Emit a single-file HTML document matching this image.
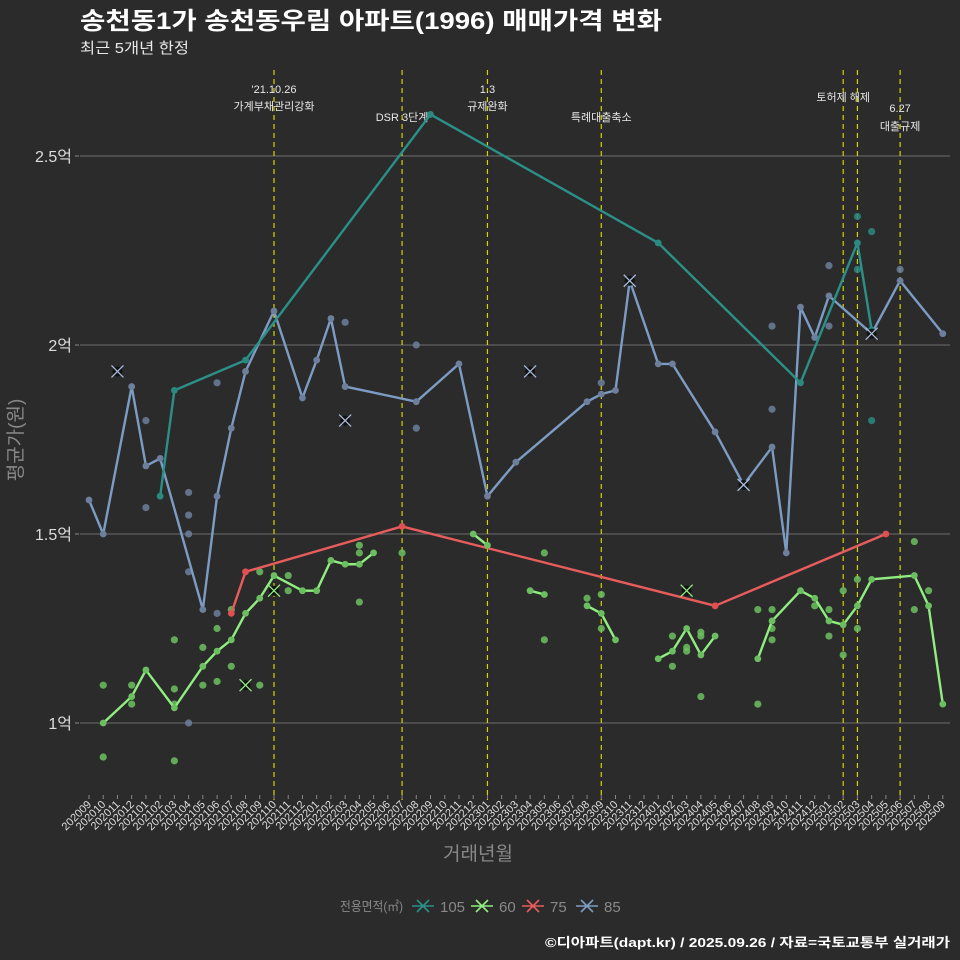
<!DOCTYPE html>
<html><head><meta charset="utf-8">
<style>
html,body{margin:0;padding:0;background:#2b2b2b;}
svg{display:block;font-family:"Liberation Sans","Noto Sans CJK KR",sans-serif;}
</style></head>
<body>
<svg id="chart" width="960" height="960" viewBox="0 0 960 960">
<rect x="0" y="0" width="960" height="960" fill="#2b2b2b"/>
<text x="80" y="29" fill="#ffffff" font-size="24" font-weight="bold" textLength="582" lengthAdjust="spacingAndGlyphs">송천동1가 송천동우림 아파트(1996) 매매가격 변화</text>
<text x="80" y="53" fill="#e8e8e8" font-size="15" textLength="109" lengthAdjust="spacingAndGlyphs">최근 5개년 한정</text>
<g id="grid"></g><g id="events"></g><g id="marks"></g><g id="axes"></g>
<text x="478" y="860" fill="#888" font-size="19" text-anchor="middle">거래년월</text>
<text transform="translate(22,440) rotate(-90)" fill="#888" font-size="19" text-anchor="middle">평균가(원)</text>
<g id="legend"></g>
<text x="545" y="947" fill="#ffffff" font-size="13" font-weight="bold" textLength="405" lengthAdjust="spacingAndGlyphs">©디아파트(dapt.kr) / 2025.09.26 / 자료=국토교통부 실거래가</text>
</svg>
<script>
const months = [];
for (let y = 2020, m = 9; months.length < 61; ) { months.push(String(y) + String(m).padStart(2,'0')); m++; if (m > 12) { m = 1; y++; } }
const yTicks = [1, 1.5, 2, 2.5];
const yTickLabels = ['1억', '1.5억', '2억', '2.5억'];
const eventMonths = [13, 22, 28, 36, 53, 54, 57];
const eventLabels = [["'21.10.26","가계부채관리강화"],["DSR 3단계"],["1.3","규제완화"],["특례대출축소"],["토허제 해제"],[],["6.27","대출규제"]];
const eventLabelY = [[93,110],[121],[93,110],[121],[101],[],[112,130]];
const areaNames = ['105','60','75','85'];
const areaColors = ['#2a9088','#90ee80','#e85c5c','#7d9cc4'];
const dotColors = ['#2a8a80','#6cbf60','#e05050','#6d7f9c'];
// line series: [monthIndex, value(억)], null = gap
const line105 = [[5,1.60],[6,1.88],[11,1.96],[24,2.61],[40,2.27],[50,1.90],[54,2.27],[55,2.04]];
const line60 = [[1,1.00],[3,1.07],[4,1.14],[6,1.04],[8,1.15],[9,1.19],[10,1.22],[11,1.29],[12,1.33],[13,1.39],[15,1.35],[16,1.35],[17,1.43],[18,1.42],[19,1.42],[20,1.45],null,
 [27,1.50],[28,1.47],null,[31,1.35],[32,1.34],null,[35,1.31],[36,1.29],[37,1.22],null,
 [40,1.17],[41,1.19],[42,1.25],[43,1.18],[44,1.23],null,
 [47,1.17],[48,1.27],[50,1.35],[51,1.33],[52,1.27],[53,1.26],[54,1.31],[55,1.38],[58,1.39],[59,1.31],[60,1.05]];
const line75 = [[10,1.29],[11,1.40],[22,1.52],[44,1.31],[56,1.50]];
const line85 = [[0,1.59],[1,1.50],[3,1.89],[4,1.68],[5,1.70],[8,1.30],[9,1.60],[10,1.78],[11,1.93],[13,2.09],[15,1.86],[16,1.96],[17,2.07],[18,1.89],[23,1.85],[26,1.95],[28,1.60],[30,1.69],[35,1.85],[36,1.87],[37,1.88],[38,2.17],[40,1.95],[41,1.95],[44,1.77],[46,1.63],[48,1.73],[49,1.45],[50,2.10],[51,2.02],[52,2.13],[55,2.03],[57,2.17],[60,2.03]];
// individual trades
const dots105 = [[54,2.34],[55,2.30],[54,2.20],[55,1.80]];
const dots60 = [[1,1.10],[1,0.91],[3,1.10],[3,1.05],[6,1.22],[6,1.09],[6,0.90],[6,1.05],[8,1.20],[8,1.10],[9,1.25],[9,1.11],[10,1.15],[10,1.30],[11,1.10],[12,1.40],[12,1.10],[14,1.39],[14,1.35],[19,1.47],[19,1.45],[19,1.32],[22,1.45],[32,1.45],[32,1.22],[35,1.33],[36,1.34],[36,1.25],[41,1.23],[41,1.15],[42,1.20],[42,1.19],[43,1.07],[43,1.24],[43,1.23],[47,1.30],[47,1.05],[48,1.25],[48,1.22],[48,1.30],[51,1.31],[52,1.30],[52,1.23],[53,1.35],[53,1.18],[54,1.38],[54,1.25],[58,1.48],[58,1.30],[59,1.35]];
const dots85 = [[4,1.80],[4,1.57],[7,1.61],[7,1.55],[7,1.50],[7,1.40],[7,1.00],[9,1.90],[9,1.29],[18,2.06],[23,2.00],[23,1.78],[36,1.90],[48,2.05],[48,1.83],[52,2.21],[52,2.05],[57,2.20]];
const cancel60 = [[11,1.10],[13,1.35],[42,1.35]];
const cancel85 = [[2,1.93],[18,1.80],[31,1.93],[38,2.17],[46,1.63],[55,2.03]];

const NS = 'http://www.w3.org/2000/svg';
const X0 = 89, DX = 14.23, Y1 = 723, PY = 378;
const xs = i => X0 + DX * i;
const ys = v => Y1 - (v - 1) * PY;
function mk(parent, tag, attrs) { const e = document.createElementNS(NS, tag); for (const k in attrs) e.setAttribute(k, attrs[k]); parent.appendChild(e); return e; }
const grid = document.getElementById('grid'), ev = document.getElementById('events'), marks = document.getElementById('marks'), axes = document.getElementById('axes'), legend = document.getElementById('legend');

yTicks.forEach((t, k) => {
  const l = mk(grid, 'line', {x1: 80, x2: 950, y1: ys(t), y2: ys(t), stroke: '#6e6e6e', 'stroke-width': 1});
  
  
  const tx = mk(axes, 'text', {x: 72, y: ys(t) + 6, fill: '#dddddd', 'font-size': 16, 'text-anchor': 'end'});
  tx.textContent = yTickLabels[k];
  
  
  mk(axes, 'line', {x1: 75, x2: 79, y1: ys(t), y2: ys(t), stroke: '#888'});
});
eventMonths.forEach((m, k) => {
  const l = mk(ev, 'line', {x1: xs(m), x2: xs(m), y1: 70, y2: 800, stroke: '#d4d400', 'stroke-width': 1.2, 'stroke-dasharray': '5,4'});
  
  
  eventLabels[k].forEach((s, j) => {
    const t = mk(ev, 'text', {x: xs(m), y: eventLabelY[k][j], fill: '#e8e8e8', 'font-size': 11, 'text-anchor': 'middle'});
    t.textContent = s;
    
    
  });
});
months.forEach((mo, i) => {
  mk(axes, 'line', {x1: xs(i), x2: xs(i), y1: 795, y2: 799, stroke: '#888'});
  const t = mk(axes, 'text', {transform: `translate(${xs(i)+3},${805}) rotate(-45)`, fill: '#dddddd', 'font-size': 11, 'text-anchor': 'end'});
  t.textContent = mo;
  
  
});
function drawDots(arr, color, name) {
  arr.forEach(p => {
    const c = mk(marks, 'circle', {cx: xs(p[0]), cy: ys(p[1]), r: 3.6, fill: color, opacity: 0.85});
    
    
  });
}
function drawLine(arr, color, dcolor, name) {
  let seg = [];
  const flush = () => {
    if (seg.length > 1) {
      const pl = mk(marks, 'polyline', {points: seg.map(p => xs(p[0]) + ',' + ys(p[1])).join(' '), fill: 'none', stroke: color, 'stroke-width': 2.4, 'stroke-linejoin': 'round'});
      
      
    }
    seg.forEach(p => {
      const c = mk(marks, 'circle', {cx: xs(p[0]), cy: ys(p[1]), r: 3.4, fill: dcolor});
      
      
    });
    seg = [];
  };
  arr.forEach(p => { if (p === null) flush(); else seg.push(p); });
  flush();
}
function drawCross(arr, color, name) {
  arr.forEach(p => {
    const x = xs(p[0]), y = ys(p[1]);
    const g = mk(marks, 'g', {});
    
    
    mk(g, 'circle', {cx: x, cy: y, r: 5, fill: '#111'});
    mk(g, 'path', {d: `M${x-6},${y-6}L${x+6},${y+6}M${x-6},${y+6}L${x+6},${y-6}`, stroke: color, 'stroke-width': 1.3});
  });
}
drawDots(dots85, dotColors[3], 'trade-85');
drawDots(dots60, dotColors[1], 'trade-60');
drawDots(dots105, dotColors[0], 'trade-105');
drawLine(line85, areaColors[3], '#6d7f9c', 'series-85');
drawLine(line105, areaColors[0], '#2a8a80', 'series-105');
drawLine(line75, areaColors[2], '#e05050', 'series-75');
drawLine(line60, areaColors[1], '#6cbf60', 'series-60');
drawCross(cancel60, areaColors[1], 'cancelled-trade-60');
drawCross(cancel85, '#a8bcdc', 'cancelled-trade-85');

const lt = mk(legend, 'text', {x: 340, y: 911, fill: '#888', 'font-size': 13, textLength: 63, lengthAdjust: 'spacingAndGlyphs'});
lt.textContent = '전용면적(㎡)';


const lx = [423, 482, 533, 587];
areaNames.forEach((n, k) => {
  const g = mk(legend, 'g', {});
  
  
  const cx = lx[k];
  mk(g, 'path', {d: `M${cx-11},906L${cx+11},906M${cx-6},900L${cx+6},912M${cx-6},912L${cx+6},900`, stroke: areaColors[k], 'stroke-width': 1.6});
  const t = mk(g, 'text', {x: cx + 17, y: 912, fill: '#888', 'font-size': 15});
  t.textContent = n;
});
</script>
</body></html>
